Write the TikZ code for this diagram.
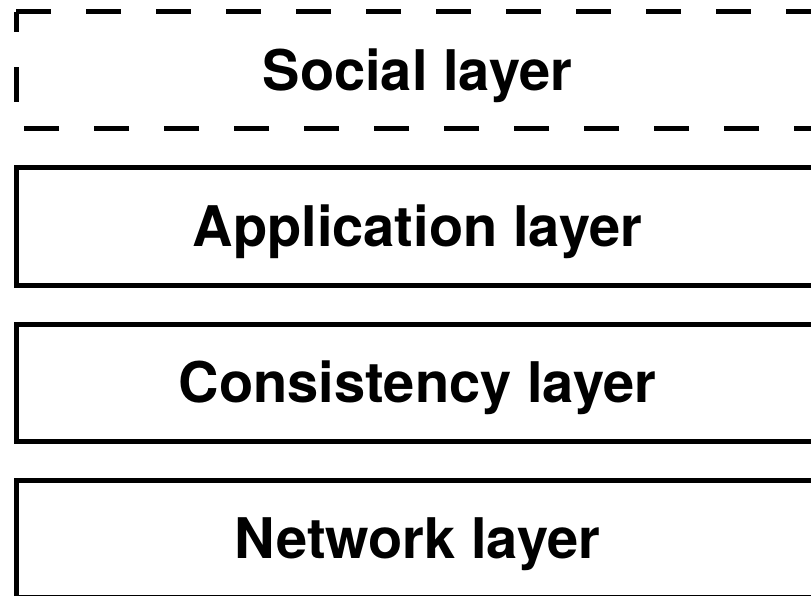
\documentclass[tikz,border=0pt]{standalone}
\usepackage{fontspec}
\setmainfont{TeX Gyre Heros}
\usepackage{tikz}
\usetikzlibrary{positioning}

\begin{document}
\begin{tikzpicture}[
  x=1pt, y=1pt,
  layer/.style={draw, line width=5pt, outer sep=0pt, minimum width=803pt, minimum height=117pt,
    font=\fontsize{56}{60}\selectfont\bfseries, text height=40pt, text depth=0pt},
  sociallayer/.style={layer, draw=none},
  socialedge/.style={line width=5pt, dash pattern=on 35pt off 35pt},
  node distance=39pt
]
\useasboundingbox (0,0) rectangle (811,-596);
\node[sociallayer] (social) at (417.5,-70.5) {Social layer};
\draw[socialedge] (social.north west) -- (social.north east) -- (social.south east) -- (social.south west) -- cycle;
\node[layer, below=of social] (app) {Application layer};
\node[layer, below=of app] (cons) {Consistency layer};
\node[layer, below=of cons] (net) {Network layer};
\end{tikzpicture}
\end{document}
